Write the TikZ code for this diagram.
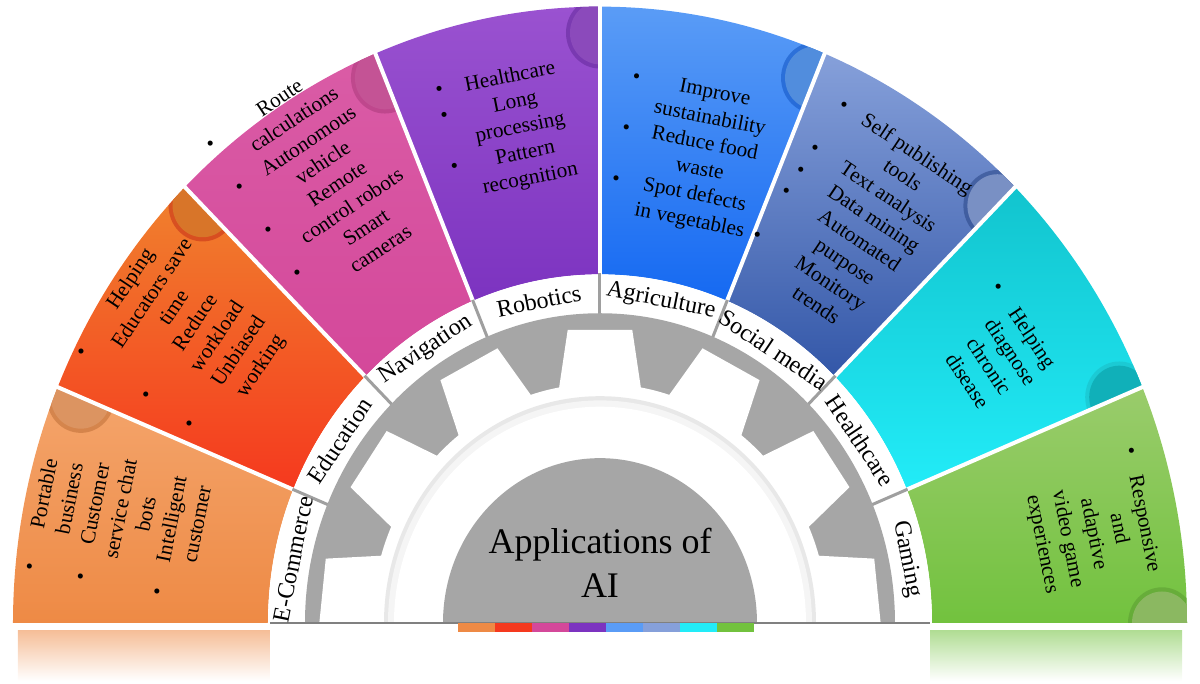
\documentclass[tikz,border=0pt]{standalone}
\usepackage{fontspec}
\setmainfont{Liberation Serif}
\definecolor{c1t}{HTML}{F4A56C}\definecolor{c1b}{HTML}{EE8A45}
\definecolor{c2t}{HTML}{F0822E}\definecolor{c2b}{HTML}{F5391E}
\definecolor{c3t}{HTML}{DA5CA6}\definecolor{c3b}{HTML}{D4489A}
\definecolor{c4t}{HTML}{9A52D0}\definecolor{c4b}{HTML}{7C33C0}
\definecolor{c5t}{HTML}{5A9CF6}\definecolor{c5b}{HTML}{1569F2}
\definecolor{c6t}{HTML}{86A0DA}\definecolor{c6b}{HTML}{3357A8}
\definecolor{c7t}{HTML}{12C4CE}\definecolor{c7b}{HTML}{22ECF8}
\definecolor{c8t}{HTML}{9ACC6C}\definecolor{c8b}{HTML}{72C23E}
\definecolor{gearg}{HTML}{A6A6A6}
\begin{document}
\begin{tikzpicture}[x=0.5pt,y=0.5pt,
  ptext/.style={font=\fontsize{10.6}{13}\selectfont, anchor=center, inner sep=0pt},
  lab/.style={font=\fontsize{12}{14}\selectfont, anchor=center, inner sep=0pt}]
\useasboundingbox (-600,-61) rectangle (600,623);
% reflections
\shade[top color=c1b!55!white, bottom color=white] (-582,-8) rectangle (-330,-58);
\shade[top color=c8b!55!white, bottom color=white] (330,-8) rectangle (582,-58);
\begin{scope}
\clip (-600,0) rectangle (600,623);
\begin{scope}[yscale=1.05]
\foreach \i/\ct/\cb in {1/c1t/c1b,2/c2t/c2b,3/c3t/c3b,4/c4t/c4b,5/c5t/c5b,6/c6t/c6b,7/c7t/c7b,8/c8t/c8b}{
  \pgfmathsetmacro\aa{180-22.5*(\i-1)}
  \pgfmathsetmacro\ab{\aa-22.5}
  \shade[top color=\ct, bottom color=\cb] (\aa:332) -- (\aa:587) arc[start angle=\aa, end angle=\ab, radius=587] -- (\ab:332) arc[start angle=\ab, end angle=\aa, radius=332] -- cycle;
  \begin{scope}
    \clip (\aa:332) -- (\aa:587) arc[start angle=\aa, end angle=\ab, radius=587] -- (\ab:332) arc[start angle=\ab, end angle=\aa, radius=332] -- cycle;
    \fill[\cb!80!black, opacity=0.55] (\ab:562) circle (34);
    \fill[\ct!90!black] (\ab:562) circle (30);
  \end{scope}
}
\foreach \a in {157.5,135,112.5,90,67.5,45,22.5}
  \draw[white, line width=2pt] (\a:330) -- (\a:600);
% label band
\fill[white] (0:295) arc[start angle=0, end angle=180, radius=295] -- (180:332) arc[start angle=180, end angle=0, radius=332] -- cycle;
\foreach \a in {157.5,135,112.5,90,67.5,45,22.5}
  \draw[gray!75, line width=1.5pt] (\a:294) -- (\a:333);
% gear
\fill[gearg] (0,0) circle (295);
\fill[white] (0,0) circle (228);
\foreach \a in {6,34,62,90,118,146,174}
  \fill[white] (\a-10.5:226) -- (\a-6.6:281) -- (\a+6.6:281) -- (\a+10.5:226) -- cycle;
\fill[gray!18] (0,0) circle (216);
\fill[gray!8] (0,0) circle (212);
\fill[white] (0,0) circle (206);
\fill[gearg] (0,0) circle (157);
\end{scope}
\end{scope}
\draw[gray, line width=0.8pt] (-330,0) -- (330,0);
\foreach \i/\c in {0/c1b,1/c2b,2/c3b,3/c4b,4/c5t,5/c6t,6/c7b,7/c8b}
  \fill[\c] (-142+37*\i,0) rectangle (-105+37*\i,-9);
% center
\node[font=\fontsize{18}{22}\selectfont, align=center] (center) at (0,60) {Applications of\\AI};
% labels
\foreach \n/\t [count=\k] in {l1/E-Commerce,l2/Education,l3/Navigation,l4/Robotics,l5/Agriculture,l6/Social media,l7/Healthcare,l8/Gaming}{
  \pgfmathsetmacro\m{191.25-22.5*\k}
  \node[lab, rotate=\m-90] (\n) at ({313*cos(\m)},{1.05*313*sin(\m)}) {\t};
}
% panel texts
\newcommand\blt{\textbullet}
\node[ptext, rotate=78.75] (t1) at ({490*cos(168.75)},{1.05*490*sin(168.75)}) {\begin{tabular}{@{}l@{\hspace{10pt}}c@{}}\blt & Portable\\ & business\\ \blt & Customer\\ & service chat\\ & bots\\ \blt & Intelligent\\ & customer\end{tabular}};
\node[ptext, rotate=56.25] (t2) at ({495*cos(146.25)},{1.05*495*sin(146.25)}) {\begin{tabular}{@{}l@{\hspace{10pt}}c@{}}\blt & Helping\\ & Educators save\\ & time\\ \blt & Reduce\\ & workload\\ \blt & Unbiased\\ & working\end{tabular}};
\node[ptext, rotate=33.75] (t3) at ({505*cos(123.75)},{1.05*505*sin(123.75)}) {\begin{tabular}{@{}l@{\hspace{10pt}}c@{}}\blt & Route\\ & calculations\\ \blt & Autonomous\\ & vehicle\\ \blt & Remote\\ & control robots\\ \blt & Smart\\ & cameras\end{tabular}};
\node[ptext, rotate=11.25] (t4) at ({478*cos(101.25)},{1.05*478*sin(101.25)}) {\begin{tabular}{@{}l@{\hspace{10pt}}c@{}}\blt & Healthcare\\ \blt & Long\\ & processing\\ \blt & Pattern\\ & recognition\end{tabular}};
\node[ptext, rotate=-11.25] (t5) at ({455*cos(78.75)},{1.05*455*sin(78.75)}) {\begin{tabular}{@{}l@{\hspace{10pt}}c@{}}\blt & Improve\\ & sustainability\\ \blt & Reduce food\\ & waste\\ \blt & Spot defects\\ & in vegetables\end{tabular}};
\node[ptext, rotate=-33.75] (t6) at ({458*cos(56.25)},{1.05*458*sin(56.25)}) {\begin{tabular}{@{}l@{\hspace{10pt}}c@{}}\blt & Self publishing\\ & tools\\ \blt & Text analysis\\ \blt & Data mining\\ \blt & Automated\\ & purpose\\ \blt & Monitory\\ & trends\end{tabular}};
\node[ptext, rotate=-56.25] (t7) at ({470*cos(33.75)},{1.05*470*sin(33.75)}) {\begin{tabular}{@{}l@{\hspace{10pt}}c@{}}\blt & Helping\\ & diagnose\\ & chronic\\ & disease\end{tabular}};
\node[ptext, rotate=-78.75] (t8) at ({500*cos(11.25)},{1.05*500*sin(11.25)}) {\begin{tabular}{@{}l@{\hspace{10pt}}c@{}}\blt & Responsive\\ & and\\ & adaptive\\ & video game\\ & experiences\end{tabular}};
\end{tikzpicture}
\end{document}
